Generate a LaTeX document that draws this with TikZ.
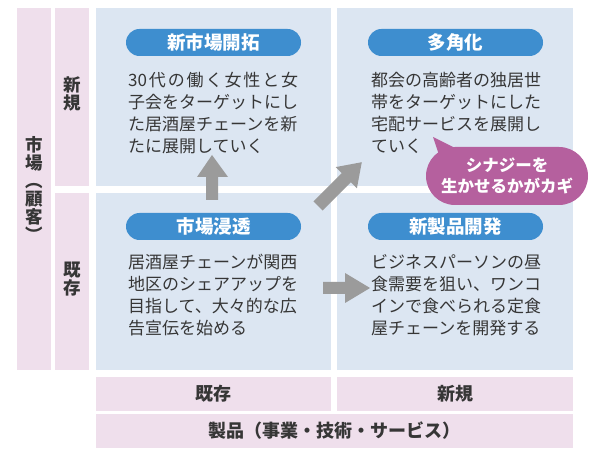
\documentclass[tikz,border=0pt]{standalone}
\usepackage{fontspec}
\setmainfont{Noto Sans CJK JP}
\definecolor{quadblue}{HTML}{DCE6F2}
\definecolor{labpink}{HTML}{EFDFEC}
\definecolor{pillblue}{HTML}{3E8ECF}
\definecolor{callmag}{HTML}{B5609E}
\definecolor{arrgray}{HTML}{9B9B9B}
\definecolor{txtgray}{HTML}{363636}
\begin{document}
\begin{tikzpicture}[x=1pt,y=-1pt,
  quad/.style={fill=quadblue},
  lab/.style={fill=labpink},
  pill/.style={fill=pillblue, rounded corners=13.5pt, text=white,
    font=\fontsize{18.5}{20}\selectfont\bfseries, minimum width=175pt,
    minimum height=27pt, inner sep=0pt},
  body/.style={text=txtgray, font=\fontsize{17}{22}\selectfont, align=left,
    anchor=north west, inner sep=0pt},
  sidelab/.style={text=txtgray, font=\fontsize{17.5}{18}\selectfont\bfseries,
    align=center, inner sep=0pt},
  botlab/.style={text=txtgray, font=\fontsize{18}{20}\selectfont\bfseries, inner sep=0pt},
  bigarrow/.style={fill=arrgray}
]
\useasboundingbox (0,0) rectangle (600,462);
% background cells
\fill[lab] (17,8) rectangle (51,370);
\fill[lab] (55,8) rectangle (89,186);
\fill[lab] (55,193) rectangle (89,370);
\fill[quad] (96,8) rectangle (331,186);
\fill[quad] (337,8) rectangle (573,186);
\fill[quad] (96,193) rectangle (331,370);
\fill[quad] (337,193) rectangle (573,370);
\fill[lab] (96,377) rectangle (331,411);
\fill[lab] (337,377) rectangle (573,411);
\fill[lab] (96,414) rectangle (573,448);

% side labels
\node[sidelab] (market) at (34,189) {市\\場\\︵\\顧\\客\\︶};
\node[sidelab] (newmk) at (72,94) {新\\規};
\node[sidelab] (oldmk) at (72,279) {既\\存};
% bottom labels
\node[botlab] (oldpr) at (213.5,394) {既存};
\node[botlab] (newpr) at (455,394) {新規};
\node[botlab] (product) at (334.5,431) {製品（事業・技術・サービス）};

% pills
\node[pill] (p1) at (213.5,42.5) {新市場開拓};
\node[pill] (p2) at (455.5,42.5) {多角化};
\node[pill] (p3) at (213.5,226.5) {市場浸透};
\node[pill] (p4) at (455.5,226.5) {新製品開発};

% body texts
\node[body] (t1) at (128,72) {\makebox[170pt][s]{30\hfil 代\hfil の\hfil 働\hfil く\hfil 女\hfil 性\hfil と\hfil 女}\\子会をターゲットにし\\た居酒屋チェーンを新\\たに展開していく};
\node[body] (t2) at (371,72) {都会の高齢者の独居世\\帯をターゲットにした\\宅配サービスを展開し\\ていく};
\node[body] (t3) at (128,254) {居酒屋チェーンが関西\\地区のシェアアップを\\目指して、大々的な広\\告宣伝を始める};
\node[body] (t4) at (371,254) {ビジネスパーソンの昼\\食需要を狙い、ワンコ\\インで食べられる定食\\屋チェーンを開発する};

% arrows
\fill[bigarrow] (206,200) -- (218,200) -- (218,177) -- (228,177) -- (212,155) -- (197,177) -- (206,177) -- cycle;
\fill[bigarrow] (313.4,201.4) -- (341.7,173.1) -- (335.7,167.1) -- (361.8,162.2) -- (356.9,188.3) -- (350.9,182.3) -- (322.6,210.6) -- cycle;
\fill[bigarrow] (323,282) -- (345,282) -- (345,273) -- (370,288) -- (345,303) -- (345,294) -- (323,294) -- cycle;

% callout
\fill[callmag] (433,137) -- (440,158) -- (463,152) -- cycle;
\node[fill=callmag, rounded corners=29pt, minimum width=162pt, minimum height=58pt,
  text=white, font=\fontsize{16.5}{21}\selectfont\bfseries, align=center, inner sep=0pt]
  (synergy) at (507,176) {シナジーを\\生かせるかがカギ};
\end{tikzpicture}
\end{document}
